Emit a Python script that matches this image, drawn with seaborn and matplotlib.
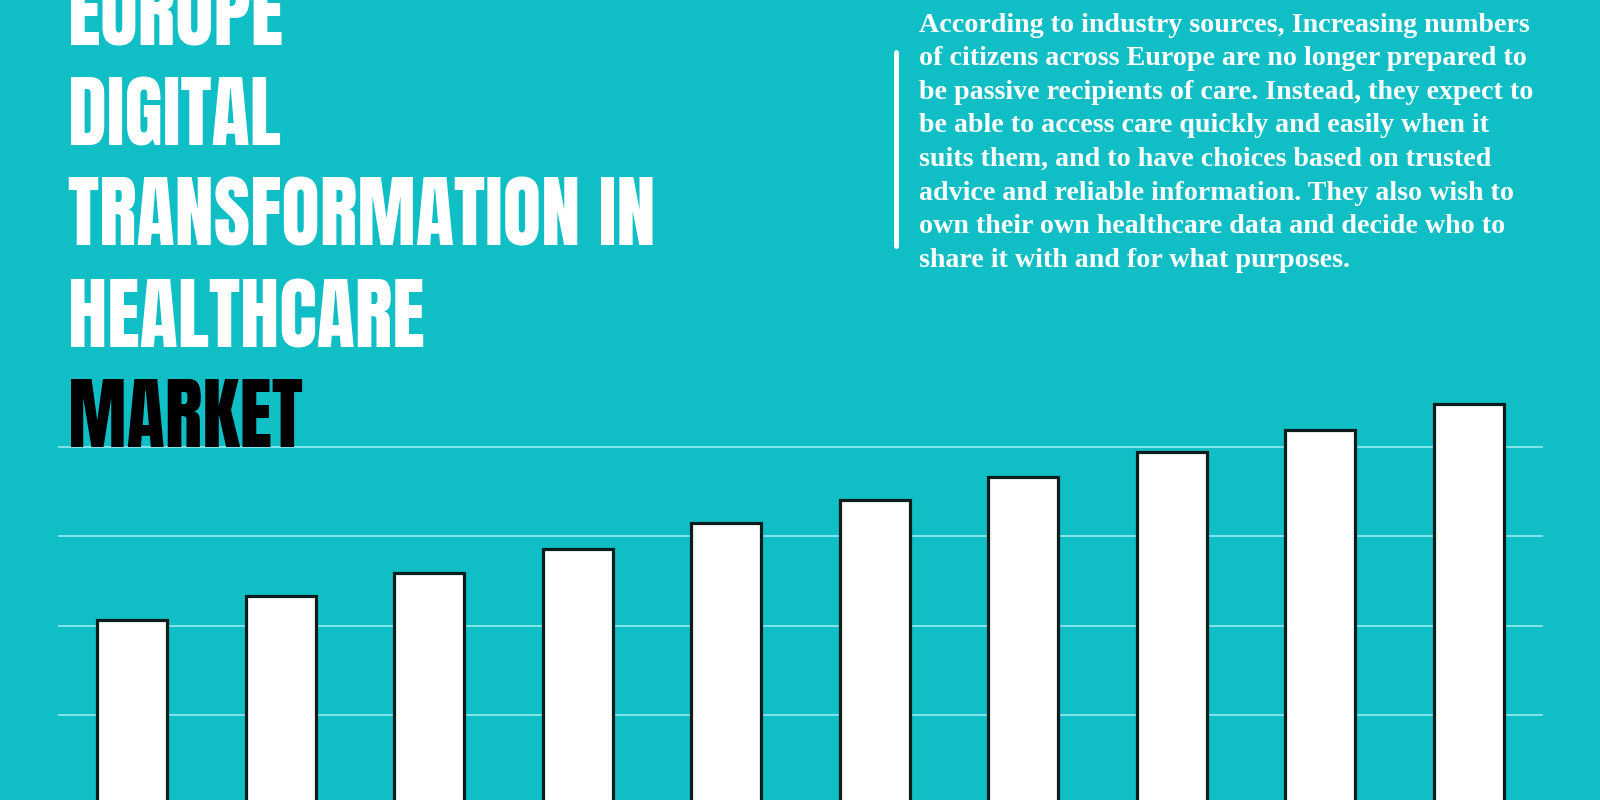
# Bibliotecas
import matplotlib
matplotlib.use("Agg")
import matplotlib.pyplot as plt
from matplotlib import font_manager
from matplotlib.lines import Line2D
from matplotlib.textpath import TextPath
import pandas as pd
import seaborn as sns

# Dados do gráfico (em unidades da grade)
anos = ['2021', '2022', '2023', '2024', '2025', '2026', '2027', '2028', '2029', '2030']
valores = [2.06, 2.33, 2.59, 2.86, 3.15, 3.41, 3.67, 3.94, 4.19, 4.48]
linhas_grade = [1, 2, 3, 4]

linhas_titulo = ['EUROPE', 'DIGITAL', 'TRANSFORMATION IN', 'HEALTHCARE', 'MARKET']
cores_titulo = ['white', 'white', 'white', 'white', 'black']

paragrafo = [
    'According to industry sources, Increasing numbers',
    'of citizens across Europe are no longer prepared to',
    'be passive recipients of care. Instead, they expect to',
    'be able to access care quickly and easily when it',
    'suits them, and to have choices based on trusted',
    'advice and reliable information. They also wish to',
    'own their own healthcare data and decide who to',
    'share it with and for what purposes.',
]

FUNDO = '#10BEC6'
LARGURA, ALTURA = 1600, 800

sns.set_theme(style="whitegrid")


def escolher_fonte_titulo():
    nomes = {f.name for f in font_manager.fontManager.ttflist}
    for nome in ['Impact', 'Anton', 'Oswald', 'Bebas Neue', 'Liberation Sans Narrow',
                 'Roboto Condensed', 'Open Sans Condensed']:
        if nome in nomes:
            return nome, 'normal'
    return 'DejaVu Sans', 'condensed'


def fy(y_px):
    # pixel a partir do topo -> coordenada da figura
    return 1 - y_px / ALTURA


def ajustar_largura(fig, texto, largura_px):
    r = fig.canvas.get_renderer()
    w = texto.get_window_extent(r).width
    return texto.get_fontsize() * largura_px / w


def tamanho_por_altura(fonte, esticar, altura_px):
    # altura da maiúscula "H" em pixels para fonte de 100 pt
    fp = font_manager.FontProperties(family=fonte, stretch=esticar, weight='bold')
    h = TextPath((0, 0), 'H', size=100, prop=fp).get_extents().height * 100 / 72
    return 100 * altura_px / h


def main():
    df = pd.DataFrame({'Ano': anos, 'Valor': valores})

    fig = plt.figure(figsize=(16, 8), dpi=100, facecolor=FUNDO)
    ax = fig.add_axes([58 / LARGURA, 0, (1543 - 58) / LARGURA, 420 / ALTURA])
    ax.set_facecolor(FUNDO)

    sns.barplot(data=df, x='Ano', y='Valor', color='white', width=0.47,
                edgecolor='#0b1c1d', linewidth=2.3, saturation=1, ax=ax)

    # escala: 0 em y=804 px, 89.3 px por unidade
    ax.set_ylim((804.3 - 800) / 89.3, (804.3 - 380) / 89.3)
    ax.set_xlim(-0.5, len(anos) - 0.5)
    ax.set_yticks(linhas_grade)
    ax.grid(axis='y', color='#a3eef0', linewidth=1.1)
    ax.grid(axis='x', visible=False)
    ax.set_axisbelow(True)
    ax.tick_params(length=0, labelleft=False, labelbottom=False)
    ax.set_xlabel('')
    ax.set_ylabel('')
    for s in ax.spines.values():
        s.set_visible(False)

    # Título (fonte estreita: meio-termo entre largura e altura do original)
    fonte, esticar = escolher_fonte_titulo()
    bases = [46, 146, 246, 347, 447]
    textos = []
    for linha, cor, base in zip(linhas_titulo, cores_titulo, bases):
        t = fig.text(68 / LARGURA, fy(base), linha, color=cor, fontsize=60,
                     family=fonte, fontstretch=esticar, fontweight='bold',
                     va='baseline', ha='left')
        textos.append(t)
    s_w = ajustar_largura(fig, textos[2], 671)
    s_h = tamanho_por_altura(fonte, esticar, 63)
    tamanho = s_w ** 0.35 * s_h ** 0.65
    for t in textos:
        t.set_fontsize(tamanho)

    # Parágrafo
    corpo = []
    for i, linha in enumerate(paragrafo):
        t = fig.text(919 / LARGURA, fy(31.7 + 33.6 * i), linha, color='white',
                     fontsize=18, family='Liberation Serif', fontweight='bold',
                     va='baseline', ha='left')
        corpo.append(t)
    tam_corpo = ajustar_largura(fig, corpo[0], 609)
    for t in corpo:
        t.set_fontsize(tam_corpo)

    # barra vertical ao lado do texto
    fig.add_artist(Line2D([895.5 / LARGURA] * 2, [fy(52), fy(246)],
                          color='white', linewidth=3.5, transform=fig.transFigure))

    fig.savefig('out.png', dpi=100, facecolor=FUNDO)


if __name__ == "__main__":
    main()
